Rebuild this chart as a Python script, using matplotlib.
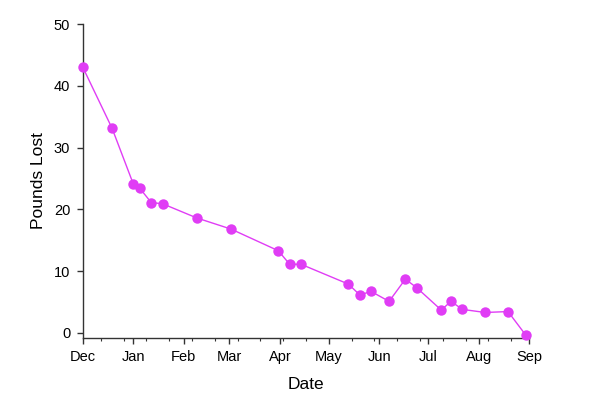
"""Pounds lost over time (weight-loss tracker)."""

import matplotlib
matplotlib.use("Agg")
import matplotlib.pyplot as plt
import matplotlib.dates as mdates
import numpy as np

plt.rcParams["font.family"] = ["Liberation Sans", "DejaVu Sans"]

# ---------------------------------------------------------------------------
# Data
# ---------------------------------------------------------------------------

dates = [
    "2013-12-01", "2013-12-19", "2014-01-01", "2014-01-05", "2014-01-12",
    "2014-01-19", "2014-02-09", "2014-03-02", "2014-03-31", "2014-04-07",
    "2014-04-14", "2014-05-13", "2014-05-20", "2014-05-27", "2014-06-07",
    "2014-06-17", "2014-06-24", "2014-07-09", "2014-07-15", "2014-07-22",
    "2014-08-05", "2014-08-19", "2014-08-30",
]
pounds_lost = [
    43.0, 33.1, 24.1, 23.4, 21.1,
    20.9, 18.6, 16.8, 13.3, 11.1,
    11.1, 7.9, 6.15, 6.7, 5.1,
    8.7, 7.3, 3.7, 5.1, 3.8,
    3.3, 3.45, -0.4,
]
x_start = "2013-12-01"
x_end = "2014-09-01"

# ---------------------------------------------------------------------------
# Plot
# ---------------------------------------------------------------------------

x = np.array(dates, dtype="datetime64[D]")
color = "#E03DF5"

fig = plt.figure(figsize=(6.0, 4.07), dpi=100)
ax = fig.add_axes([0.138, 0.170, 0.744, 0.771])

ax.plot(x, pounds_lost, color=color, linewidth=1.0, marker="o",
        markersize=7.5, markeredgewidth=0, clip_on=False, zorder=3)

ax.set_xlim(np.datetime64(x_start), np.datetime64(x_end))
ax.set_ylim(-0.8, 50)
ax.set_yticks(np.arange(0, 51, 10))

ax.xaxis.set_major_locator(mdates.MonthLocator())
ax.xaxis.set_major_formatter(mdates.DateFormatter("%b"))
ax.xaxis.set_minor_locator(mdates.WeekdayLocator(byweekday=mdates.TH, interval=2))

for side in ("top", "right"):
    ax.spines[side].set_visible(False)
for side in ("left", "bottom"):
    ax.spines[side].set_color("#333333")
    ax.spines[side].set_linewidth(1.0)

ax.tick_params(axis="both", which="major", length=4, width=1.0,
               color="#333333", labelsize=10.5, pad=5)
ax.tick_params(axis="x", which="minor", length=2, width=0.8, color="#333333")

ax.set_xlabel("Date", fontsize=12.5, labelpad=9)
ax.set_ylabel("Pounds Lost", fontsize=12.5, labelpad=6)

fig.savefig("out.png", dpi=100)
plt.close(fig)
